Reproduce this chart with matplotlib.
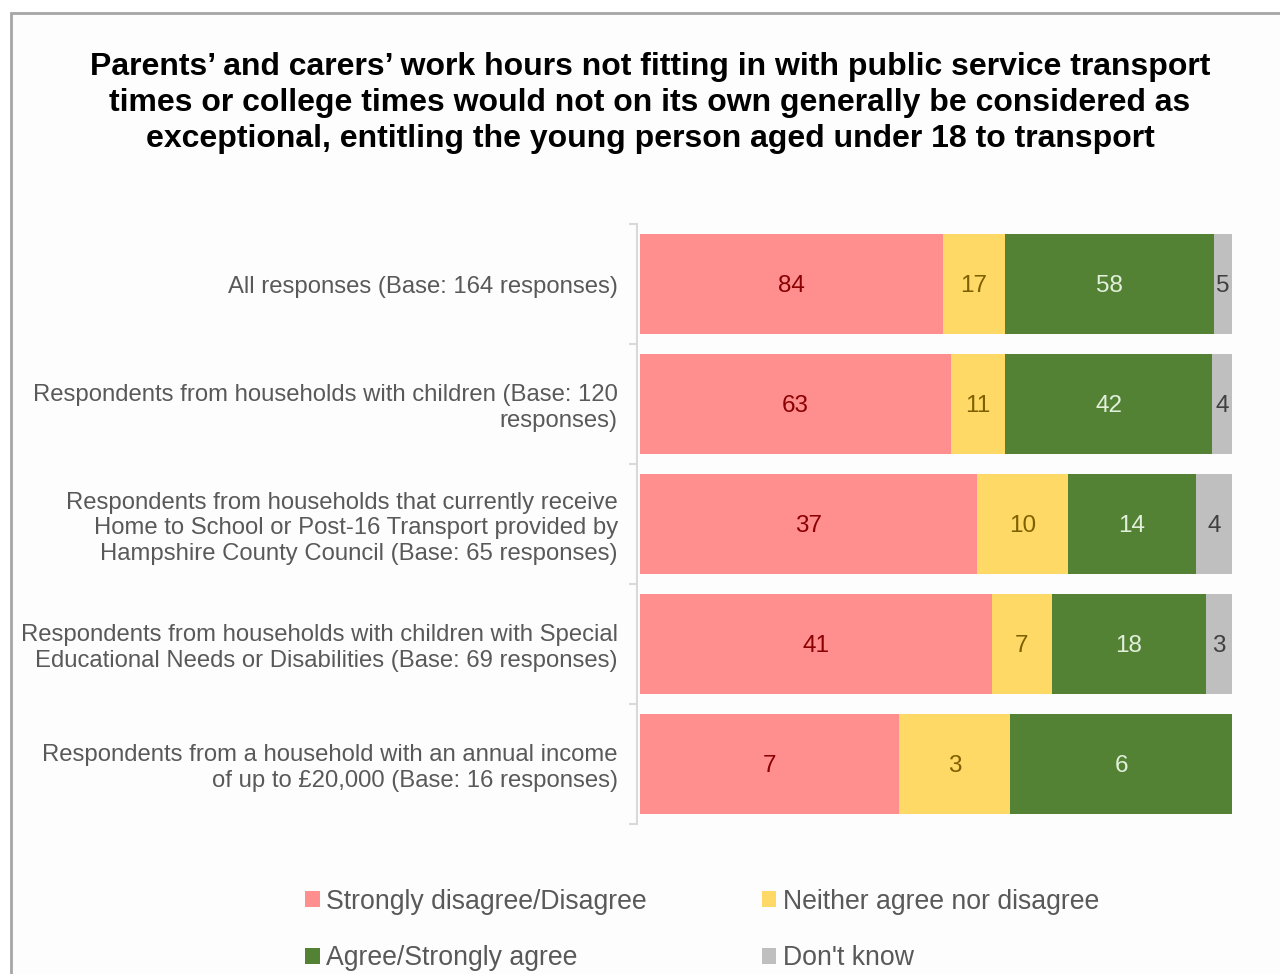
import matplotlib.pyplot as plt
import matplotlib.patches as patches
import numpy as np

# data
groups = [
    'All responses (Base: 164 responses)',
    'Respondents from households with children (Base: 120\nresponses)',
    'Respondents from households that currently receive\nHome to School or Post-16 Transport provided by\nHampshire County Council (Base: 65 responses)',
    'Respondents from households with children with Special\nEducational Needs or Disabilities (Base: 69 responses)',
    'Respondents from a household with an annual income\nof up to \u00a320,000 (Base: 16 responses)',
]
disagree = [84, 63, 37, 41, 7]
neither = [17, 11, 10, 7, 3]
agree = [58, 42, 14, 18, 6]
dont_know = [5, 4, 4, 3, 0]

series_names = ['Strongly disagree/Disagree', 'Neither agree nor disagree',
                'Agree/Strongly agree', "Don't know"]
series_colors = ['#FF8F8F', '#FFD966', '#548235', '#BFBFBF']
label_colors = ['#8B0000', '#7F6000', '#E2EFDA', '#404040']

title = ('Parents\u2019 and carers\u2019 work hours not fitting in with public service transport\n'
         'times or college times would not on its own generally be considered as\n'
         'exceptional, entitling the young person aged under 18 to transport')

plt.rcParams['font.family'] = ['Liberation Sans', 'DejaVu Sans']

W, H = 1280, 974
fig = plt.figure(figsize=(W / 100, H / 100), dpi=100)
fig.patch.set_facecolor('white')

# chart area border
fig.patches.append(patches.Rectangle((11 / W, -0.05), 1.2, 1.05 - 13 / H,
                                     transform=fig.transFigure, facecolor='#FDFDFD',
                                     edgecolor='#A6A6A6', linewidth=2, zorder=-5))

fig.text(650 / W, 1 - 103 / H, title, ha='center', va='center', fontsize=23,
         fontweight='bold', color='black', linespacing=1.28)

ax = fig.add_axes([640 / W, 1 - 824 / H, 592 / W, 600 / H])
ax.set_facecolor('none')

data = np.array([disagree, neither, agree, dont_know], dtype=float)
totals = data.sum(axis=0)
shares = data / totals
y = np.arange(len(groups))

left = np.zeros(len(groups))
handles = []
for i in range(4):
    bars = ax.barh(y, shares[i], left=left, height=0.83, color=series_colors[i],
                   edgecolor='none', label=series_names[i])
    handles.append(bars)
    for j in range(len(groups)):
        if data[i, j] > 0:
            ax.text(left[j] + shares[i, j] / 2, y[j], '%d' % data[i, j],
                    ha='center', va='center_baseline', fontsize=17.5,
                    color=label_colors[i])
    left += shares[i]

ax.set_xlim(0, 1)
ax.set_ylim(len(groups) - 0.5, -0.5)
ax.set_xticks([])
ax.set_yticks(np.arange(-0.5, len(groups)), minor=True)
ax.set_yticks(y)
ax.set_yticklabels(groups)
ax.tick_params(axis='y', which='major', length=0, pad=14, labelsize=17.2,
               labelcolor='#595959')
ax.tick_params(axis='y', which='minor', length=6, width=1.5, color='#D9D9D9')
for lab in ax.get_yticklabels():
    lab.set_linespacing(1.25)
for s in ['top', 'right', 'bottom']:
    ax.spines[s].set_visible(False)
ax.spines['left'].set_color('#D9D9D9')
ax.spines['left'].set_linewidth(1.5)
ax.spines['left'].set_position(('outward', 2))

order = [0, 2, 1, 3]
fig.legend([handles[k] for k in order], [series_names[k] for k in order],
           ncol=2, loc='center', bbox_to_anchor=(702 / W, 1 - 930 / H),
           frameon=False, fontsize=19.2, labelcolor='#595959',
           handlelength=0.55, handleheight=0.55, handletextpad=0.25,
           columnspacing=4.3, labelspacing=1.15)

fig.savefig('out.png', dpi=100)
